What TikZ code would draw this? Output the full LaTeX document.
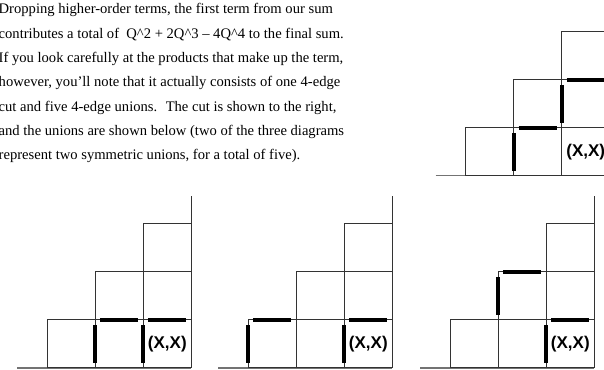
\documentclass[tikz,border=0pt]{standalone}
\usepackage{fontspec}
\setmainfont{Liberation Serif}
\newfontfamily\lblfont{Liberation Sans}
\tikzset{
  cellln/.style ={draw=black!80, line width=0.9pt},
  floor/.style  ={draw=black!55, line width=1.6pt},
  bond/.style   ={draw=black, line width=3.8pt, shorten <=5pt, shorten >=5pt},
  xxlbl/.style  ={font=\lblfont\bfseries\fontsize{17}{17}\selectfont, inner sep=0pt},
  para/.style   ={align=left, anchor=base west, inner sep=0pt, font=\fontsize{14.6}{24.3}\selectfont},
}
\def\cs{48}
% one staircase: floor, 1+2+3 cells, right wall
\newcommand{\stairs}{%
  \draw[floor] (-30,0) -- (3*\cs,0);
  \foreach \c in {1,2,3} {
    \foreach \r in {1,...,\c} {
      \draw[cellln] (\c*\cs-\cs, \r*\cs-\cs) rectangle ++(\cs,\cs);
    }
  }
  \draw[cellln] (3*\cs,0) -- (3*\cs,172);
}

\begin{document}
\begin{tikzpicture}[x=1pt, y=1pt]
  \useasboundingbox (0,0) rectangle (604,369);
  \clip (0,0) rectangle (604,369);

  % base anchor sits on the last line
  \node[para] (txt) at (-1.5,209.2) {Dropping higher-order terms, the first term from our sum\\
    contributes a total of \ Q\textasciicircum 2 + 2Q\textasciicircum 3 – 4Q\textasciicircum 4 to the final sum.\\
    If you look carefully at the products that make up the term,\\
    however, you’ll note that it actually consists of one 4-edge\\
    cut and five 4-edge unions. \ The cut is shown to the right,\\
    and the unions are shown below (two of the three diagrams\\
    represent two symmetric unions, for a total of five).};

  % the cut
  \begin{scope}[shift={(465.7,193.3)}]
    \stairs
    \draw[bond] (\cs,0) -- ++(0,\cs);
    \draw[bond] (\cs,\cs) -- ++(\cs,0);
    \draw[bond] (2*\cs,\cs) -- ++(0,\cs);
    \draw[bond] (2*\cs,2*\cs) -- ++(\cs,0);
    \node[xxlbl] (cut-xx) at (2.5*\cs,0.5*\cs) {(X,X)};
  \end{scope}

  % union 1
  \begin{scope}[shift={(47.3,1.3)}]
    \stairs
    \draw[bond] (\cs,0) -- ++(0,\cs);
    \draw[bond] (\cs,\cs) -- ++(\cs,0);
    \draw[bond] (2*\cs,0) -- ++(0,\cs);
    \draw[bond] (2*\cs,\cs) -- ++(\cs,0);
    \node[xxlbl] (ua-xx) at (2.5*\cs,0.5*\cs) {(X,X)};
  \end{scope}

  % union 2
  \begin{scope}[shift={(248.3,1.3)}]
    \stairs
    \draw[bond] (0,0) -- ++(0,\cs);
    \draw[bond] (0,\cs) -- ++(\cs,0);
    \draw[bond] (2*\cs,0) -- ++(0,\cs);
    \draw[bond] (2*\cs,\cs) -- ++(\cs,0);
    \node[xxlbl] (ub-xx) at (2.5*\cs,0.5*\cs) {(X,X)};
  \end{scope}

  % union 3
  \begin{scope}[shift={(450.3,1.3)}]
    \stairs
    \draw[bond] (\cs,\cs) -- ++(0,\cs);
    \draw[bond] (\cs,2*\cs) -- ++(\cs,0);
    \draw[bond] (2*\cs,0) -- ++(0,\cs);
    \draw[bond] (2*\cs,\cs) -- ++(\cs,0);
    \node[xxlbl] (uc-xx) at (2.5*\cs,0.5*\cs) {(X,X)};
  \end{scope}
\end{tikzpicture}
\end{document}
